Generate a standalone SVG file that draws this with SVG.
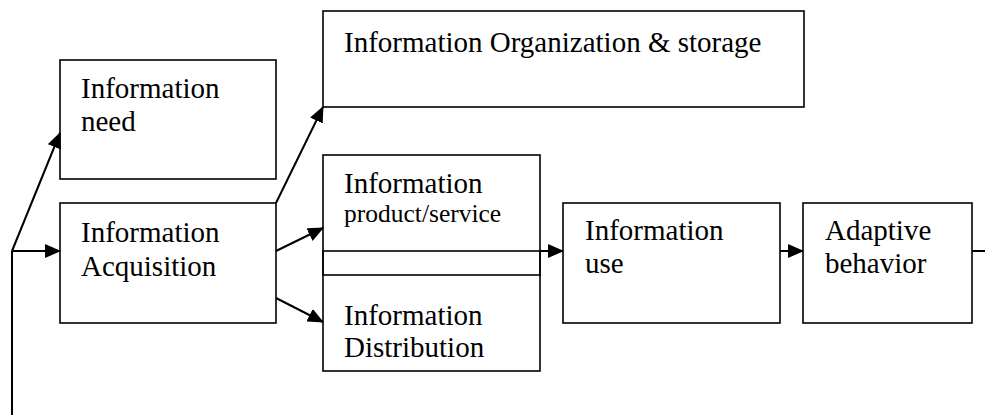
<svg xmlns="http://www.w3.org/2000/svg" width="985" height="415" viewBox="0 0 985 415">
<style>
.box{fill:none;stroke:#000;stroke-width:1.6}
.t{font-family:'Liberation Serif','Times New Roman','DejaVu Serif',serif;font-size:29px;fill:#000}
.s{font-size:25.5px}
.c{fill:none;stroke:#000;stroke-width:2}
</style>
<defs>
<marker id="ah" markerUnits="userSpaceOnUse" markerWidth="16" markerHeight="14" refX="15" refY="7" orient="auto">
<path d="M0,0 L16,7 L0,14 Z" fill="#000"/>
</marker>
</defs>
<rect x="0" y="0" width="985" height="415" fill="#fff"/>
<g font-family="Liberation Serif, Times New Roman, serif">
<g id="need">
<rect class="box" x="60" y="60" width="216" height="119"/>
<text class="t" x="81" y="98">Information</text>
<text class="t" x="81" y="131">need</text>
</g>
<g id="org">
<rect class="box" x="323" y="11" width="481" height="96"/>
<text class="t" x="344" y="52">Information Organization &amp; storage</text>
</g>
<g id="acq">
<rect class="box" x="60" y="203" width="216" height="120"/>
<text class="t" x="81" y="242">Information</text>
<text class="t" x="81" y="276">Acquisition</text>
</g>
<g id="product">
<rect class="box" x="323" y="155" width="217" height="120"/>
<text class="t" x="344" y="193">Information</text>
<text class="t s" x="344" y="222">product/service</text>
</g>
<g id="distribution">
<rect class="box" x="323" y="251" width="217" height="120"/>
<text class="t" x="344" y="325">Information</text>
<text class="t" x="344" y="357">Distribution</text>
</g>
<g id="use">
<rect class="box" x="563" y="203" width="217" height="120"/>
<text class="t" x="585" y="240">Information</text>
<text class="t" x="585" y="273">use</text>
</g>
<g id="adaptive">
<rect class="box" x="803" y="203" width="169" height="120"/>
<text class="t" x="825" y="240">Adaptive</text>
<text class="t" x="825" y="273">behavior</text>
</g>
</g>
<g id="connectors">
<path class="c" d="M12,415 L12,251"/>
<path class="c" d="M12,251 L60,251" marker-end="url(#ah)"/>
<path class="c" d="M12,251 L60,133" marker-end="url(#ah)"/>
<path class="c" d="M276,203 L323,107" marker-end="url(#ah)"/>
<path class="c" d="M276,251 L323,228" marker-end="url(#ah)"/>
<path class="c" d="M276,298 L323,322" marker-end="url(#ah)"/>
<path class="c" d="M540,251 L563,251" marker-end="url(#ah)"/>
<path class="c" d="M780,251 L803,251" marker-end="url(#ah)"/>
<path class="c" d="M972,251 L985,251"/>
</g>
</svg>
